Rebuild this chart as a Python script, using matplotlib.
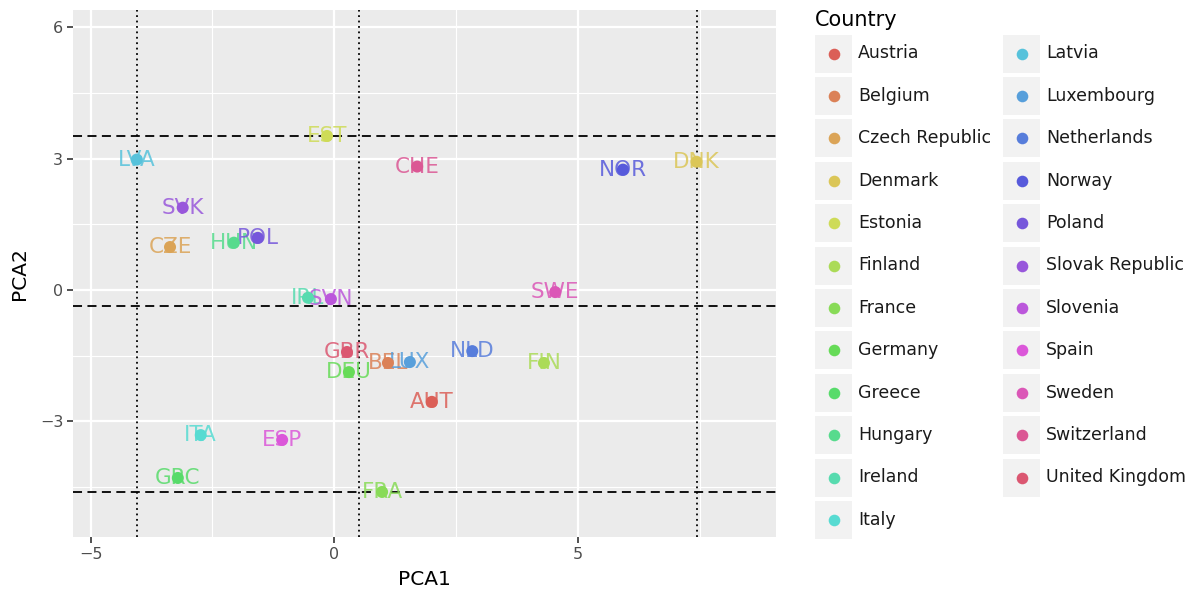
import colorsys
import numpy as np
import matplotlib
matplotlib.use("Agg")
import matplotlib.pyplot as plt
from matplotlib.patches import Rectangle

# scores of the first two principal components per country
countries = ["Austria", "Belgium", "Czech Republic", "Denmark", "Estonia", "Finland",
             "France", "Germany", "Greece", "Hungary", "Ireland", "Italy",
             "Latvia", "Luxembourg", "Netherlands", "Norway", "Poland",
             "Slovak Republic", "Slovenia", "Spain", "Sweden", "Switzerland",
             "United Kingdom"]
codes = ["AUT", "BEL", "CZE", "DNK", "EST", "FIN", "FRA", "DEU", "GRC", "HUN", "IRL", "ITA",
         "LVA", "LUX", "NLD", "NOR", "POL", "SVK", "SVN", "ESP", "SWE", "CHE", "GBR"]
pca1 = [2.00, 1.10, -3.37, 7.43, -0.15, 4.30, 0.98, 0.30, -3.21, -2.06, -0.54, -2.74,
        -4.05, 1.55, 2.83, 5.92, -1.57, -3.11, -0.07, -1.07, 4.53, 1.70, 0.26]
pca2 = [-2.56, -1.67, 0.98, 2.93, 3.52, -1.67, -4.62, -1.88, -4.30, 1.08, -0.18, -3.32,
        2.98, -1.65, -1.40, 2.75, 1.19, 1.88, -0.21, -3.43, -0.05, 2.82, -1.42]

# reference lines
vlines = [-4.05, 0.51, 7.43]
hlines = [3.52, -0.37, -4.62]


def hue_pal(n, h=0.01, l=0.6, s=0.65):
    # evenly spaced hues in HLS space (plotnine default discrete palette)
    hues = (np.linspace(0, 1, n + 1)[:-1] + h) % 1
    return [colorsys.hls_to_rgb(hh, l, s) for hh in hues]


colors = hue_pal(len(countries))

fig = plt.figure(figsize=(11.94, 5.95), dpi=100)
W, H = 1194, 595
ax = fig.add_axes([73 / W, 1 - 537 / H, (776 - 73) / W, (537 - 10) / H])
ax.set_facecolor("#ebebeb")
for s in ax.spines.values():
    s.set_visible(False)

ax.set_xlim(-5.36, 9.06)
ax.set_ylim(-5.65, 6.40)
ax.set_xticks([-5, 0, 5])
ax.set_xticklabels(["\u22125", "0", "5"])
ax.set_yticks([-3, 0, 3, 6])
ax.set_yticklabels(["\u22123", "0", "3", "6"])
ax.set_xticks([-2.5, 2.5, 7.5], minor=True)
ax.set_yticks([-4.5, -1.5, 1.5, 4.5], minor=True)
ax.grid(which="major", color="white", linewidth=1.6)
ax.grid(which="minor", color="white", linewidth=0.8)
ax.set_axisbelow(True)
ax.tick_params(which="major", length=4, width=1.2, color="#333333",
               labelsize=11.5, labelcolor="#4d4d4d", pad=3)
ax.tick_params(which="minor", length=0)
ax.set_xlabel("PCA1", fontsize=14.5, labelpad=6)
ax.set_ylabel("PCA2", fontsize=14.5, labelpad=8)

for v in vlines:
    ax.axvline(v, color="black", linestyle=(0, (1, 2)), linewidth=1.3, zorder=1)
for hv in hlines:
    ax.axhline(hv, color="black", linestyle=(0, (5, 3)), linewidth=1.3, zorder=1)

for x, y, code, col in zip(pca1, pca2, codes, colors):
    ax.text(x, y, code, color=col, alpha=0.85, fontsize=15.5,
            ha="center", va="center", zorder=2)
ax.scatter(pca1, pca2, c=colors, s=75, linewidths=0, zorder=3)

# legend drawn in pixel coordinates
lg = fig.add_axes([0, 0, 1, 1], facecolor="none")
lg.set_xlim(0, W)
lg.set_ylim(H, 0)
lg.axis("off")
lg.text(815, 20, "Country", fontsize=15, ha="left", va="center")
for i, (name, col) in enumerate(zip(countries, colors)):
    column, row = divmod(i, 12)
    x0 = 815 + column * 188
    yc = 53.5 + row * 42.4
    lg.add_patch(Rectangle((x0, yc - 19), 37, 38, facecolor="#f2f2f2", edgecolor="none"))
    lg.scatter([x0 + 18.5], [yc], color=col, s=70, linewidths=0)
    lg.text(x0 + 43, yc, name, fontsize=12.5, ha="left", va="center", color="#1a1a1a")

fig.savefig("out.png", dpi=100)
